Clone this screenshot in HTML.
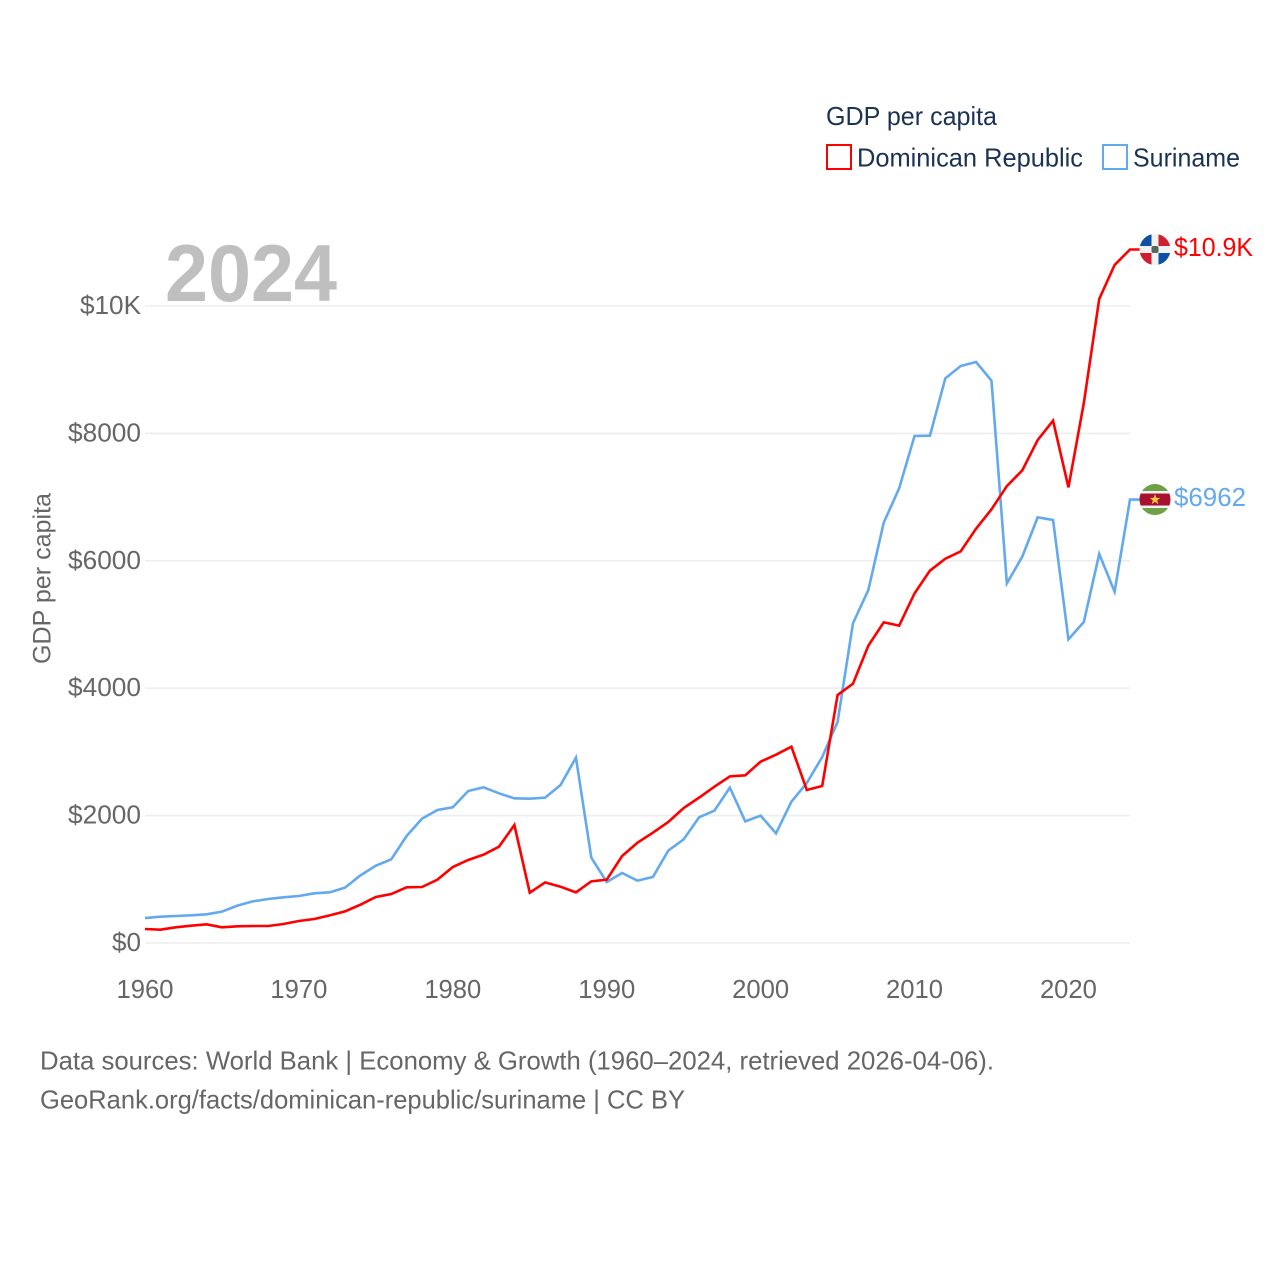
<!DOCTYPE html>
<html lang="en">
<head>
<meta charset="utf-8">
<title>GDP per capita: Dominican Republic and Suriname</title>
<style>
  html, body { margin: 0; padding: 0; background: #fff; }
  svg { display: block; }
  text { font-family: "Liberation Sans", sans-serif; }
</style>
</head>
<body>
<svg id="chart" xmlns="http://www.w3.org/2000/svg" width="1280" height="1280" viewBox="0 0 1280 1280">
  <defs>
    <clipPath id="clip-dr"><circle cx="0" cy="0" r="15.5"></circle></clipPath>
    <clipPath id="clip-sr"><circle cx="0" cy="0" r="15.5"></circle></clipPath>
  </defs>
  <rect x="0" y="0" width="1280" height="1280" fill="#ffffff"></rect>

  <g id="grid"></g>
  <g id="y-ticks"></g>
  <g id="x-ticks"></g>

  <text x="165" y="301" font-size="81" font-weight="700" fill="#bfbfbf" textLength="172" lengthAdjust="spacingAndGlyphs">2024</text>

  <text transform="translate(50.5,664) rotate(-90)" font-size="25" fill="#666666" textLength="171" lengthAdjust="spacingAndGlyphs">GDP per capita</text>

  <g>
    <text x="826" y="125" font-size="26" fill="#1b3253" textLength="171" lengthAdjust="spacingAndGlyphs">GDP per capita</text>
    <rect x="827" y="145" width="24" height="24" fill="none" stroke="#ff0000" stroke-width="2"></rect>
    <text x="857" y="166.5" font-size="26" fill="#1b3253" textLength="226" lengthAdjust="spacingAndGlyphs">Dominican Republic</text>
    <rect x="1103" y="145" width="24" height="24" fill="none" stroke="#63a9ee" stroke-width="2"></rect>
    <text x="1133" y="166.5" font-size="26" fill="#1b3253" textLength="107" lengthAdjust="spacingAndGlyphs">Suriname</text>
  </g>

  <g id="series"></g>

  <g id="flag-dr">
    <g clip-path="url(#clip-dr)">
      <rect x="-16" y="-16" width="32" height="32" fill="#f1f1f1"></rect>
      <rect x="-16" y="-16" width="12.5" height="12.5" fill="#0b50a5"></rect>
      <rect x="3.5" y="-16" width="12.5" height="12.5" fill="#cf1e30"></rect>
      <rect x="-16" y="3.5" width="12.5" height="12.5" fill="#cf1e30"></rect>
      <rect x="3.5" y="3.5" width="12.5" height="12.5" fill="#0b50a5"></rect>
      <rect x="-3.5" y="-3.5" width="7" height="7" rx="2" fill="#6b5a5a"></rect>
      <circle cx="0" cy="0" r="2" fill="#2f7d55"></circle>
    </g>
  </g>

  <g id="flag-sr">
    <g clip-path="url(#clip-sr)">
      <rect x="-16" y="-16" width="32" height="32" fill="#6fa048"></rect>
      <rect x="-16" y="-8.5" width="32" height="17" fill="#f1f1f1"></rect>
      <rect x="-16" y="-6" width="32" height="12" fill="#a8102e"></rect>
      <polygon points="0,-5.4 1.4,-1.6 5.2,-1.6 2.2,0.8 3.3,4.6 0,2.3 -3.3,4.6 -2.2,0.8 -5.2,-1.6 -1.4,-1.6" fill="#f6c945"></polygon>
    </g>
  </g>

  <text id="label-dr" x="1174" font-size="26" fill="#ff0000" textLength="79" lengthAdjust="spacingAndGlyphs"></text>
  <text id="label-sr" x="1174" font-size="26" fill="#63a9ee" textLength="72" lengthAdjust="spacingAndGlyphs"></text>

  <g>
    <text x="40" y="1069.5" font-size="26" fill="#666666" textLength="954" lengthAdjust="spacingAndGlyphs">Data sources: World Bank | Economy &amp; Growth (1960–2024, retrieved 2026-04-06).</text>
    <text x="40" y="1108.5" font-size="26" fill="#666666" textLength="645" lengthAdjust="spacingAndGlyphs">GeoRank.org/facts/dominican-republic/suriname | CC BY</text>
  </g>
</svg>

<script>
const years = [1960,1961,1962,1963,1964,1965,1966,1967,1968,1969,1970,1971,1972,1973,1974,1975,1976,1977,1978,1979,1980,1981,1982,1983,1984,1985,1986,1987,1988,1989,1990,1991,1992,1993,1994,1995,1996,1997,1998,1999,2000,2001,2002,2003,2004,2005,2006,2007,2008,2009,2010,2011,2012,2013,2014,2015,2016,2017,2018,2019,2020,2021,2022,2023,2024];
const dominicanRepublic = [220,209,246,272,293,246,262,267,267,298,345,377,434,497,602,722,769,874,879,994,1193,1303,1387,1512,1852,790,952,884,795,968,994,1366,1575,1732,1900,2119,2282,2454,2616,2632,2847,2956,3082,2402,2465,3893,4071,4668,5034,4982,5489,5845,6033,6148,6504,6808,7174,7420,7896,8200,7153,8477,10110,10644,10887];
const suriname = [392,413,424,434,450,492,586,654,691,717,738,780,795,869,1062,1214,1313,1680,1952,2088,2130,2386,2444,2350,2271,2266,2282,2480,2910,1340,958,1099,979,1036,1450,1627,1973,2078,2439,1910,1999,1722,2219,2512,2920,3469,5018,5542,6599,7138,7959,7964,8864,9058,9121,8828,5646,6065,6682,6641,4767,5039,6107,5515,6962];
const yTickValues = [0,2000,4000,6000,8000,10000];
const yTickLabels = ["$0","$2000","$4000","$6000","$8000","$10K"];
const xTickValues = [1960,1970,1980,1990,2000,2010,2020];
const xTickLabels = ["1960","1970","1980","1990","2000","2010","2020"];
const endLabels = ["$10.9K","$6962"];

const NS = "http://www.w3.org/2000/svg";
const plotLeft = 145, plotRight = 1130, plotBottom = 943, plotTop = 306;
const xScale = function (year) { return plotLeft + (year - 1960) * (plotRight - plotLeft) / 64; };
const yScale = function (value) { return plotBottom - value * (plotBottom - plotTop) / 10000; };

const gridGroup = document.getElementById("grid");
const yGroup = document.getElementById("y-ticks");
const xGroup = document.getElementById("x-ticks");
const seriesGroup = document.getElementById("series");

yTickValues.forEach(function (value, i) {
  const line = document.createElementNS(NS, "line");
  
  
  line.setAttribute("x1", plotLeft);
  line.setAttribute("x2", plotRight);
  line.setAttribute("y1", yScale(value));
  line.setAttribute("y2", yScale(value));
  line.setAttribute("stroke", "#eeeeee");
  line.setAttribute("stroke-width", "1.6");
  gridGroup.appendChild(line);

  const label = document.createElementNS(NS, "text");
  
  
  const text = yTickLabels[i];
  const width = text.length === 2 ? 29 : (text.length === 4 ? 61 : 73);
  label.setAttribute("x", 141 - width);
  label.setAttribute("y", yScale(value) + 8);
  label.setAttribute("font-size", "26");
  label.setAttribute("fill", "#666666");
  label.setAttribute("textLength", width);
  label.setAttribute("lengthAdjust", "spacingAndGlyphs");
  label.textContent = text;
  yGroup.appendChild(label);
});

xTickValues.forEach(function (year, i) {
  const label = document.createElementNS(NS, "text");
  
  
  label.setAttribute("x", xScale(year) - 28.5);
  label.setAttribute("y", 998);
  label.setAttribute("font-size", "26");
  label.setAttribute("fill", "#666666");
  label.setAttribute("textLength", "57");
  label.setAttribute("lengthAdjust", "spacingAndGlyphs");
  label.textContent = xTickLabels[i];
  xGroup.appendChild(label);
});

function drawSeries(values, color, name) {
  const parts = values.map(function (value, i) {
    return (i === 0 ? "M" : "L") + xScale(years[i]).toFixed(2) + " " + yScale(value).toFixed(2);
  });
  parts.push("L" + (xScale(years[years.length - 1]) + 25).toFixed(2) + " " + yScale(values[values.length - 1]).toFixed(2));
  const path = document.createElementNS(NS, "path");
  
  
  path.setAttribute("d", parts.join(" "));
  path.setAttribute("fill", "none");
  path.setAttribute("stroke", color);
  path.setAttribute("stroke-width", "2.6");
  path.setAttribute("stroke-linejoin", "miter");
  seriesGroup.appendChild(path);
}
drawSeries(suriname, "#63a9ee", "suriname-line");
drawSeries(dominicanRepublic, "#ff0000", "dominican-republic-line");

const flagX = xScale(2024) + 25;
const drEnd = yScale(dominicanRepublic[dominicanRepublic.length - 1]);
const srEnd = yScale(suriname[suriname.length - 1]);
document.getElementById("flag-dr").setAttribute("transform", "translate(" + flagX + "," + drEnd + ")");
document.getElementById("flag-sr").setAttribute("transform", "translate(" + flagX + "," + srEnd + ")");
const labelDr = document.getElementById("label-dr");
labelDr.setAttribute("y", drEnd + 6.5);
labelDr.textContent = endLabels[0];
const labelSr = document.getElementById("label-sr");
labelSr.setAttribute("y", srEnd + 6.5);
labelSr.textContent = endLabels[1];
</script>
</body>
</html>
